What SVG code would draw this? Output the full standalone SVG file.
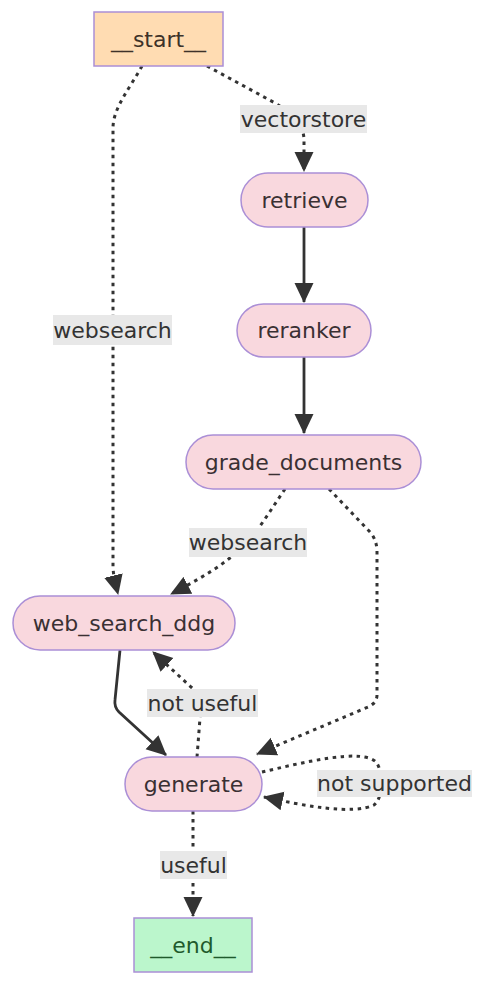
<svg xmlns="http://www.w3.org/2000/svg" width="486" height="984" viewBox="0 0 486 984">
<defs>
<style>
.node rect{stroke:#ab8fd6;stroke-width:1.5}
.pink rect{fill:#f9d8de}
.nt{font-family:"DejaVu Sans",sans-serif;font-size:22px;fill:#3a3033;text-anchor:middle}
.edge{fill:none;stroke:#333;stroke-width:2.8}
.dot{stroke-dasharray:3.5 4.5;stroke-width:3}
.lbg{fill:#e8e8e8}
.lt{font-family:"DejaVu Sans",sans-serif;font-size:22px;fill:#333;text-anchor:middle}
</style>
<marker id="ah" markerUnits="userSpaceOnUse" markerWidth="20" markerHeight="20" viewBox="0 0 20 20" refX="19" refY="10" orient="auto">
<path d="M0,0.5 L20,10 L0,19.5 z" fill="#333"/>
</marker>
</defs>
<rect width="486" height="984" fill="#ffffff"/>
<g id="connectors">
<path class="edge dot" d="M142,66 C130,88 113,108 113,128 L113,565 C113,576 116,586 118,594" marker-end="url(#ah)"/>
<path class="edge dot" d="M207,66 L275,103 Q304,120 304,140 L304,171" marker-end="url(#ah)"/>
<path class="edge" d="M304,227 L304,302" marker-end="url(#ah)"/>
<path class="edge" d="M304,357 L304,433" marker-end="url(#ah)"/>
<path class="edge dot" d="M285,489 C272,508 260,528 246,544 C226,564 198,580 171,594" marker-end="url(#ah)"/>
<path class="edge dot" d="M329,489 L370,532 Q377,540 377,552 L377,695 Q377,703 368,707 L257,754" marker-end="url(#ah)"/>
<path class="edge" d="M120,650 L115,700 Q114,707 119,712 L166,755" marker-end="url(#ah)"/>
<path class="edge dot" d="M197,757 L201,705 Q201,695 191,687 L153,652" marker-end="url(#ah)"/>
<path class="edge dot" d="M262,772 C305,762 362,748 376,762 Q381,768 381,782 Q381,800 374,805 C352,815 305,806 264,797" marker-end="url(#ah)"/>
<path class="edge dot" d="M193,811 L193,916" marker-end="url(#ah)"/>
<g id="edge-labels">
<rect class="lbg" x="240" y="105" width="127" height="28"/>
<text class="lt" x="303.5" y="127">vectorstore</text>
<rect class="lbg" x="53" y="315" width="119" height="30"/>
<text class="lt" x="112.5" y="338">websearch</text>
<rect class="lbg" x="189" y="528" width="118" height="29"/>
<text class="lt" x="248" y="550">websearch</text>
<rect class="lbg" x="147" y="689" width="111" height="28"/>
<text class="lt" x="202.5" y="711">not useful</text>
<rect class="lbg" x="317" y="770" width="155" height="27"/>
<text class="lt" x="394.5" y="791">not supported</text>
<rect class="lbg" x="160" y="851" width="67" height="28"/>
<text class="lt" x="193.5" y="873">useful</text>
</g>
</g>
<g id="start" class="node">
<rect x="94" y="12" width="129" height="54" fill="#ffdcb2"/>
<text class="nt" x="158.5" y="47" style="fill:#3d3229">__start__</text>
</g>
<g id="retrieve" class="node pink">
<rect x="241" y="173" width="127" height="54" rx="27"/>
<text class="nt" x="304.5" y="208">retrieve</text>
</g>
<g id="reranker" class="node pink">
<rect x="237" y="304" width="134" height="53" rx="26.5"/>
<text class="nt" x="304" y="338">reranker</text>
</g>
<g id="grade_documents" class="node pink">
<rect x="186" y="435" width="235" height="54" rx="27"/>
<text class="nt" x="303.5" y="470">grade_documents</text>
</g>
<g id="web_search_ddg" class="node pink">
<rect x="13" y="596" width="222" height="54" rx="27"/>
<text class="nt" x="124" y="631">web_search_ddg</text>
</g>
<g id="generate" class="node pink">
<rect x="125" y="757" width="137" height="54" rx="27"/>
<text class="nt" x="193.5" y="792">generate</text>
</g>
<g id="end" class="node">
<rect x="134" y="918" width="118" height="54" fill="#bbf6cc"/>
<text class="nt" x="193" y="953" style="fill:#1f5a2c">__end__</text>
</g>
</svg>
